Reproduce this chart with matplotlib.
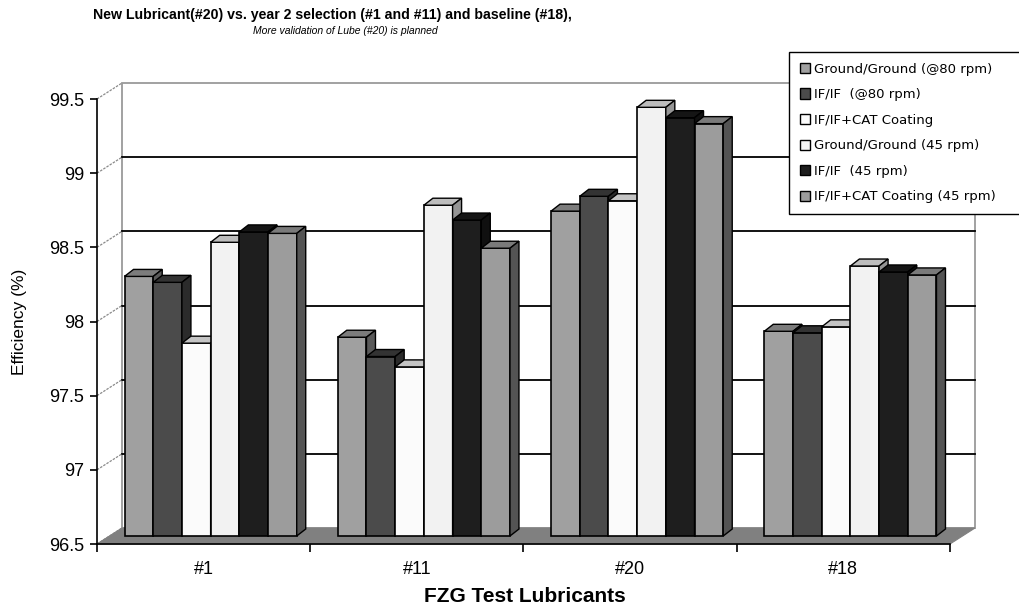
import numpy as np
import matplotlib
matplotlib.use("Agg")
import matplotlib.pyplot as plt
from matplotlib.patches import Polygon, Patch

plt.rcParams['font.family'] = ['Liberation Sans', 'DejaVu Sans']

# data
lubricants = ['#1', '#11', '#20', '#18']
series_names = ['Ground/Ground (@80 rpm)', 'IF/IF  (@80 rpm)', 'IF/IF+CAT Coating',
                'Ground/Ground (45 rpm)', 'IF/IF  (45 rpm)', 'IF/IF+CAT Coating (45 rpm)']
ground_80 = [98.25, 97.84, 98.69, 97.88]
if_80 = [98.21, 97.71, 98.79, 97.87]
if_cat = [97.80, 97.64, 98.76, 97.91]
ground_45 = [98.48, 98.73, 99.39, 98.32]
if_45 = [98.55, 98.63, 99.32, 98.28]
if_cat_45 = [98.54, 98.44, 99.28, 98.26]
y_ticks = [96.5, 97, 97.5, 98, 98.5, 99, 99.5]

all_series = [ground_80, if_80, if_cat, ground_45, if_45, if_cat_45]
# (front, top, side) shades for the fake 3d look
shades = [('#a0a0a0', '#7c7c7c', '#5a5a5a'),
          ('#4b4b4b', '#333333', '#2b2b2b'),
          ('#fbfbfb', '#c4c4c4', '#9c9c9c'),
          ('#f2f2f2', '#bdbdbd', '#959595'),
          ('#1e1e1e', '#151515', '#101010'),
          ('#9c9c9c', '#7a7a7a', '#545454')]

W, H = 1020, 612
fig = plt.figure(figsize=(W / 100, H / 100), dpi=100)
left, right, top, bottom = 97, 950, 99, 544
ax = fig.add_axes([left / W, 1 - bottom / H, (right - left) / W, (bottom - top) / H])
ymin, ymax = y_ticks[0], y_ticks[-1]
n = len(lubricants)
ax.set_xlim(0, n)
ax.set_ylim(ymin, ymax)
ax.patch.set_visible(False)
ax.spines['top'].set_visible(False)
ax.spines['right'].set_visible(False)
ax.spines['left'].set_linewidth(1.2)
ax.spines['bottom'].set_linewidth(1.2)

# pixel -> data conversion
px_x = n / (right - left)
px_y = (ymax - ymin) / (bottom - top)
wall_dx, wall_dy = 25 * px_x, 16 * px_y
bar_dx, bar_dy = 7 * px_x, 8 * px_y
depth_dx, depth_dy = 9 * px_x, 7 * px_y

# back wall
wall = Polygon([(wall_dx, ymin + wall_dy), (n + wall_dx, ymin + wall_dy),
                (n + wall_dx, ymax + wall_dy), (wall_dx, ymax + wall_dy)],
               closed=True, facecolor='white', edgecolor='#9a9a9a', lw=1.3,
               clip_on=False, zorder=0)
ax.add_patch(wall)
for y in y_ticks[1:-1]:
    ax.plot([wall_dx, n + wall_dx], [y + wall_dy] * 2, color='black', lw=1.3,
            clip_on=False, zorder=0.5)
for y in y_ticks:
    ax.plot([0, wall_dx], [y, y + wall_dy], color='#8a8a8a', lw=0.9,
            ls=(0, (2, 1)), clip_on=False, zorder=0.5)

# floor
floor = Polygon([(0, ymin), (n, ymin), (n + wall_dx, ymin + wall_dy), (wall_dx, ymin + wall_dy)],
                closed=True, facecolor='#808080', edgecolor='#808080', lw=0.8,
                clip_on=False, zorder=1)
ax.add_patch(floor)

# bars
bar_w = 28.7 * px_x
group_w = bar_w * len(all_series)
for g in range(n):
    for s, vals in enumerate(all_series):
        front, topc, sidec = shades[s]
        v = vals[g]
        x0 = g + (1 - group_w) / 2 + s * bar_w + bar_dx
        base = ymin + bar_dy
        ax.bar(x0, v - ymin, width=bar_w, bottom=base, align='edge', color=front,
               edgecolor='black', lw=1.2, zorder=2, clip_on=False)
        ty = v + bar_dy
        ax.add_patch(Polygon([(x0, ty), (x0 + depth_dx, ty + depth_dy),
                              (x0 + bar_w + depth_dx, ty + depth_dy), (x0 + bar_w, ty)],
                             closed=True, facecolor=topc, edgecolor='black', lw=1.0,
                             zorder=2, clip_on=False))
        ax.add_patch(Polygon([(x0 + bar_w, base), (x0 + bar_w, ty),
                              (x0 + bar_w + depth_dx, ty + depth_dy),
                              (x0 + bar_w + depth_dx, base + depth_dy)],
                             closed=True, facecolor=sidec, edgecolor='black', lw=1.0,
                             zorder=2, clip_on=False))

# ticks
ax.set_yticks(y_ticks)
ax.set_yticklabels(['%g' % t for t in y_ticks])
ax.tick_params(axis='y', direction='out', length=5, width=1.2, labelsize=13, pad=4)
ax.set_xticks(range(n + 1))
ax.set_xticklabels([])
ax.set_xticks(np.arange(n) + 0.5, minor=True)
ax.set_xticklabels(lubricants, minor=True)
ax.tick_params(axis='x', which='major', direction='out', length=6, width=1.2)
ax.tick_params(axis='x', which='minor', length=0, pad=12, labelsize=13)

# legend
handles = [Patch(facecolor=sh[0], edgecolor='black', lw=1) for sh in shades]
fig.legend(handles, series_names, loc='upper left',
           bbox_to_anchor=(789 / W, 1 - 52 / H, 260 / W, 0), mode='expand',
           prop={'family': 'DejaVu Sans', 'size': 9.5}, labelspacing=0.95,
           handlelength=0.8, handleheight=0.8,
           handletextpad=0.3, borderpad=0.8, borderaxespad=0, fancybox=False,
           edgecolor='black', framealpha=1)

# titles and axis labels
fig.text(332 / W, 1 - 15 / H,
         'New Lubricant(#20) vs. year 2 selection (#1 and #11) and baseline (#18),',
         ha='center', va='center', fontsize=10.2, fontweight='bold')
fig.text(345 / W, 1 - 31 / H, 'More validation of Lube (#20) is planned',
         ha='center', va='center', fontsize=7.5, style='italic')
fig.text(20 / W, 1 - 322 / H, 'Efficiency (%)', rotation=90, ha='center', va='center',
         fontsize=12.5)
fig.text(525 / W, 1 - 597 / H, 'FZG Test Lubricants', ha='center', va='center',
         fontsize=15, fontweight='bold')

fig.savefig('out.png', dpi=100)
